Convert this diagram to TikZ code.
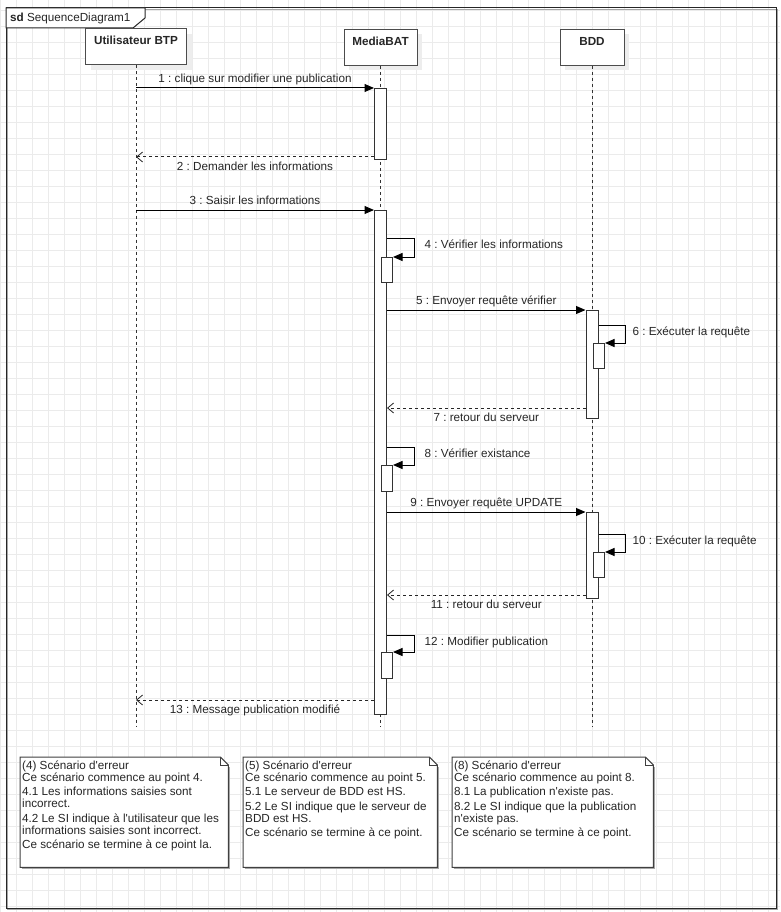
\documentclass[tikz,border=0pt]{standalone}
\usepackage{fontspec}
\newfontfamily\arialfont{Liberation Sans}
\usetikzlibrary{arrows.meta}
\newcommand\msgsize{\fontsize{11.7}{11.7}\selectfont}
\frenchspacing

\begin{document}
\begin{tikzpicture}[x=1pt,y=-1pt,
  font=\arialfont\msgsize, text=black!85,
  gridline/.style={draw=black!8, line width=0.8pt},
  frameline/.style={draw=black!85, line width=1pt},
  head/.style={draw=black!70, line width=1pt, fill=white, inner sep=0pt,
    minimum height=36pt, text height=16pt, text depth=20pt,
    font=\arialfont\bfseries\msgsize,
    preaction={draw=none, fill=black!7, transform canvas={shift={(5pt,-5pt)}}}},
  life/.style={draw=black!80, line width=1pt, dash pattern=on 3pt off 3pt},
  actbar/.style={draw=black!80, line width=1pt, fill=white, minimum width=12pt,
    inner sep=0pt, anchor=north},
  nestbar/.style={actbar, minimum width=11pt, anchor=north west},
  sync/.style={draw=black, line width=1pt, -{Triangle[length=9.5pt,width=8pt]}},
  reply/.style={draw=black!85, line width=1pt, dash pattern=on 3pt off 3pt,
    -{Straight Barb[length=6pt,width=10pt,line width=0.8pt]}},
  msglbl/.style={inner sep=0pt, text height=9pt, text depth=3pt},
  selflbl/.style={msglbl, anchor=west, pos=1, yshift=-7.5pt},
  notebox/.style={draw=none, inner sep=0pt, anchor=north west, minimum height=110pt},
  noteline/.style={draw=black!75, line width=1pt, fill=white},
  noteshadow/.style={draw=black!35, line width=1pt},
  notetext/.style={inner sep=0pt, anchor=north west, align=left,
    font=\arialfont\fontsize{11.7}{12.1}\selectfont}]

\useasboundingbox (0,0) rectangle (780,912);
\fill[white] (0,0) rectangle (780,912);

% background grid
\foreach \x in {0,16,...,784} \draw[gridline] (\x,0) -- (\x,912);
\foreach \y in {10,26,...,906} \draw[gridline] (0,\y) -- (780,\y);

% diagram frame with its name tab
\draw[noteshadow] (7.5,9.5) rectangle (777.5,909.5);
\draw[frameline] (6,8) rectangle (776,908);
\draw[frameline, fill=white] (6,8) -- (145,8) -- (145,18) -- (133,28) -- (6,28) -- cycle;
\node[anchor=base west, inner sep=0pt] (sdl) at (10,22) {\bfseries sd\ \mdseries SequenceDiagram1};

% lifeline heads
\node[head, minimum width=101pt] (uh) at (136,47) {Utilisateur BTP};
\node[head, minimum width=73pt] (mh) at (380.5,47.5) {MediaBAT};
\node[head, minimum width=64pt] (bh) at (592,47.5) {BDD};

% lifelines
\coordinate (lifeEnd) at (0,727);
\draw[life] (uh.south) -- (uh.south |- lifeEnd);
\draw[life] (mh.south) -- (mh.south |- lifeEnd);
\draw[life] (bh.south) -- (bh.south |- lifeEnd);

% activation bars
\node[actbar, minimum height=71pt]  (a1) at (380.5,88) {};
\node[actbar, minimum height=504pt] (a2) at (380.5,210) {};
\node[actbar, minimum height=108pt] (b1) at (592,310) {};
\node[actbar, minimum height=86pt]  (b2) at (592,512) {};

% nested activations of the self calls
\node[nestbar, minimum height=25pt] (n4)  at (381,257) {};
\node[nestbar, minimum height=25pt] (n6)  at (593,343) {};
\node[nestbar, minimum height=26pt] (n8)  at (381,465) {};
\node[nestbar, minimum height=25pt] (n10) at (593,552) {};
\node[nestbar, minimum height=26pt] (n12) at (381,652) {};

% return points
\coordinate (r2)  at ([yshift=3pt]a1.south west);
\coordinate (r7)  at ([yshift=11pt]b1.south west);
\coordinate (r11) at ([yshift=4pt]b2.south west);
\coordinate (r13) at ([yshift=15pt]a2.south west);

% messages
\draw[sync] (uh.south |- a1.north) -- (a1.north west)
  node[msglbl, midway, above=2pt] {1 : clique sur modifier une publication};
\draw[reply] (r2) -- (uh.south |- r2)
  node[msglbl, midway, below=4pt] {2 : Demander les informations};
\draw[sync] (uh.south |- a2.north) -- (a2.north west)
  node[msglbl, midway, above=2pt] {3 : Saisir les informations};
\draw[sync] ([yshift=-28pt]a2.north east) -- ++(27,0)
  node[selflbl, xshift=10pt] {4 : Vérifier les informations} |- (n4.north east);
\draw[sync] (a2.east |- b1.north) -- (b1.north west)
  node[msglbl, midway, above=2pt] {5 : Envoyer requête vérifier};
\draw[sync] ([yshift=-15pt]b1.north east) -- ++(27,0)
  node[selflbl, xshift=6.5pt] {6 : Exécuter la requête} |- (n6.north east);
\draw[reply] (r7) -- (a2.east |- r7)
  node[msglbl, midway, below=3.5pt] {7 : retour du serveur};
\draw[sync] ([yshift=-237pt]a2.north east) -- ++(27,0)
  node[selflbl, xshift=10pt] {8 : Vérifier existance} |- (n8.north east);
\draw[sync] (a2.east |- b2.north) -- (b2.north west)
  node[msglbl, midway, above=2pt] {9 : Envoyer requête UPDATE};
\draw[sync] ([yshift=-22pt]b2.north east) -- ++(27,0)
  node[selflbl, xshift=6.5pt] {10 : Exécuter la requête} |- (n10.north east);
\draw[reply] (r11) -- (a2.east |- r11)
  node[msglbl, midway, below=4pt] {11 : retour du serveur};
\draw[sync] ([yshift=-425pt]a2.north east) -- ++(27,0)
  node[selflbl, xshift=10pt] {12 : Modifier publication} |- (n12.north east);
\draw[reply] (r13) -- (uh.south |- r13)
  node[msglbl, midway, below=4pt] {13 : Message publication modifié};

% error scenario notes
\node[notebox, minimum width=208pt] (e4) at (20,757) {};
\node[notebox, minimum width=194pt] (e5) at (243,757) {};
\node[notebox, minimum width=201pt] (e8) at (452,757) {};
\foreach \n in {e4,e5,e8}{
  \draw[noteshadow, transform canvas={shift={(1.5pt,-1.5pt)}}]
    (\n.south west) -- (\n.south east) -- ([yshift=-8pt]\n.north east);
  \draw[noteline] (\n.south west) -- (\n.north west) -- ([xshift=-8pt]\n.north east)
    -- ([yshift=-8pt]\n.north east) -- (\n.south east) -- cycle;
  \draw[noteline, fill=none] ([xshift=-8pt]\n.north east)
    -- ([xshift=-8pt,yshift=-8pt]\n.north east) -- ([yshift=-8pt]\n.north east);
}
\node[notetext] (t4) at ([xshift=2pt,yshift=-3.5pt]e4.north west) {%
  (4) Scénario d'erreur\\
  Ce scénario commence au point 4.\\[2.2pt]
  4.1 Les informations saisies sont\\
  incorrect.\\[2.2pt]
  4.2 Le SI indique à l'utilisateur que les\\
  informations saisies sont incorrect.\\[2.2pt]
  Ce scénario se termine à ce point la.};
\node[notetext] (t5) at ([xshift=2pt,yshift=-3.5pt]e5.north west) {%
  (5) Scénario d'erreur\\
  Ce scénario commence au point 5.\\[2.2pt]
  5.1 Le serveur de BDD est HS.\\[2.2pt]
  5.2 Le SI indique que le serveur de\\
  BDD est HS.\\[2.2pt]
  Ce scénario se termine à ce point.};
\node[notetext] (t8) at ([xshift=2pt,yshift=-3.5pt]e8.north west) {%
  (8) Scénario d'erreur\\
  Ce scénario commence au point 8.\\[2.2pt]
  8.1 La publication n'existe pas.\\[2.2pt]
  8.2 Le SI indique que la publication\\
  n'existe pas.\\[2.2pt]
  Ce scénario se termine à ce point.};

\end{tikzpicture}
\end{document}
